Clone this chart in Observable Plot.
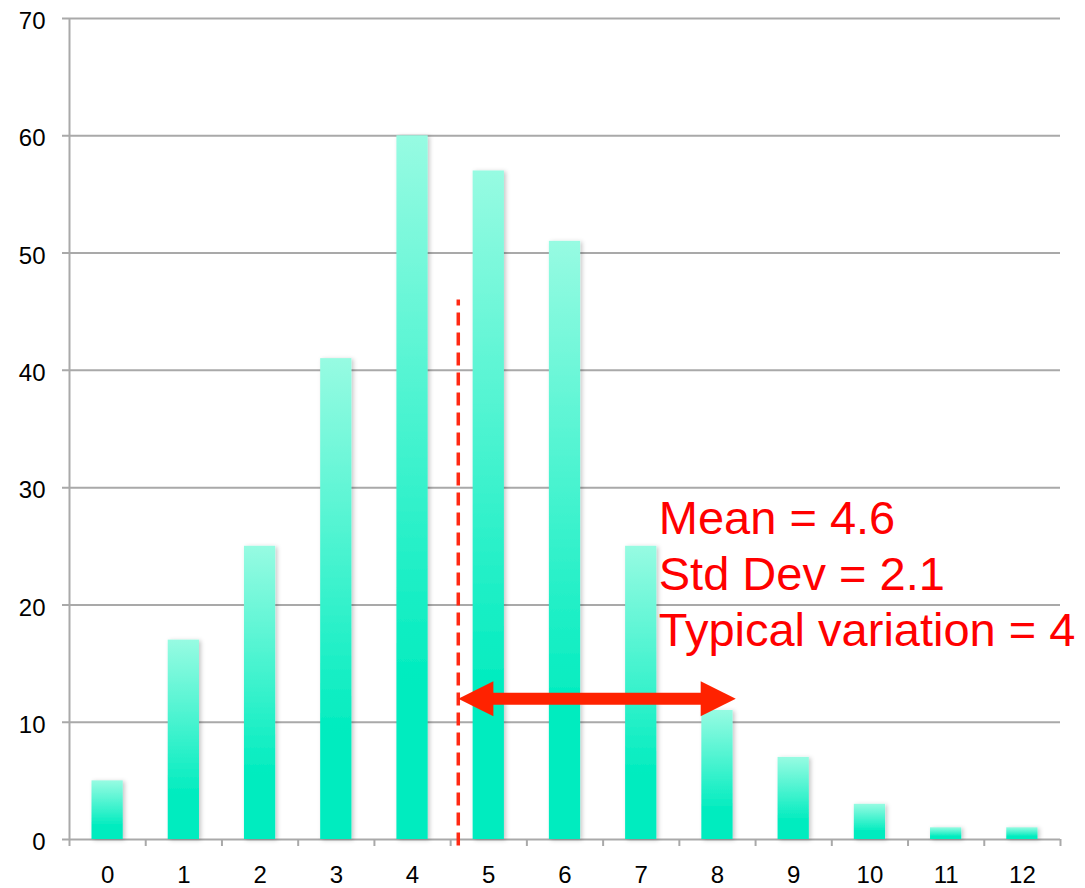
<!DOCTYPE html>
<html>
<head>
<meta charset="utf-8">
<script src="https://cdn.jsdelivr.net/npm/d3@7"></script>
<script src="https://cdn.jsdelivr.net/npm/@observablehq/plot@0.6"></script>
<style>
  html, body { margin: 0; padding: 0; background: #ffffff; }
  #chart svg { display: block; }
</style>
</head>
<body>
<div id="chart"></div>
<script>
// Number of occurrences (category) and how often each was observed
const counts = [0, 1, 2, 3, 4, 5, 6, 7, 8, 9, 10, 11, 12];
const frequencies = [5, 17, 25, 41, 60, 57, 51, 25, 11, 7, 3, 1, 1];
const yTicks = [0, 10, 20, 30, 40, 50, 60, 70];

// Summary statistics shown in the note
const meanValue = 4.6;
const stdDev = 2.1;
const typicalVariation = 4;
const noteLines = [
  `Mean = ${meanValue}`,
  `Std Dev = ${stdDev}`,
  `Typical variation = ${typicalVariation}`
];

// Annotation placement (data units)
const meanLineTop = 46;
const arrowY = 12;
const arrowEnd = 8.24;
const noteX = 7.23;
const noteY = 16.54;

const gridColor = "#a9a9a9";
const red = "#ff2200";
const halfBar = 0.205;
const labelFont = "'Liberation Sans', Arial, Helvetica, sans-serif";

const rows = counts.map((k, i) => ({k, n: frequencies[i]}));
const boundaries = d3.range(-0.5, 12.5 + 1e-9, 1);

// Arrow head pointing right with its tip at the origin
const arrowHead = {
  draw(context, size) {
    const s = Math.sqrt(size / Math.PI);
    context.moveTo(0, 0);
    context.lineTo(-2.7 * s, -1.35 * s);
    context.lineTo(-2.7 * s, 1.35 * s);
    context.closePath();
  }
};

const chart = Plot.plot({
  width: 1085,
  height: 888,
  marginLeft: 69,
  marginRight: 25,
  marginTop: 18,
  marginBottom: 49,
  style: {
    fontFamily: labelFont,
    fontSize: "24px",
    background: "#ffffff",
    overflow: "visible"
  },
  x: {type: "linear", domain: [-0.5, 12.5], axis: null},
  y: {domain: [0, 70], axis: null},
  marks: [
    // horizontal gridlines, extended left to form the y-axis ticks
    Plot.ruleY(yTicks, {x1: -0.5, x2: 12.5, stroke: gridColor, strokeWidth: 2, insetLeft: -7}),
    // y-axis line
    Plot.ruleX([-0.5], {y1: 0, y2: 70, stroke: gridColor, strokeWidth: 2}),
    // x-axis tick marks between categories
    Plot.axisX(boundaries, {tickSize: 7, tickFormat: () => "", stroke: gridColor, strokeWidth: 2, label: null}),
    // x-axis labels
    Plot.text(counts, {
      x: d => d,
      frameAnchor: "bottom",
      lineAnchor: "top",
      dy: 26,
      text: d => String(d),
      fontSize: 24,
      fill: "#000"
    }),
    // y-axis labels
    Plot.text(yTicks, {
      y: d => d,
      frameAnchor: "left",
      textAnchor: "end",
      dx: -24,
      dy: 3,
      text: d => String(d),
      fontSize: 24,
      fill: "#000"
    }),
    // bars
    Plot.rectY(rows, {
      x1: d => d.k - halfBar,
      x2: d => d.k + halfBar,
      y: "n",
      fill: "url(#barFill)"
    }),
    // mean marker
    Plot.ruleX([meanValue], {y1: -0.55, y2: meanLineTop, stroke: "#ff2a14", strokeWidth: 3.5, strokeDasharray: "13,7"}),
    // variation arrow
    Plot.ruleY([arrowY], {x1: meanValue, x2: arrowEnd, stroke: red, strokeWidth: 12, insetLeft: 20, insetRight: 20}),
    Plot.dot([{x: arrowEnd, y: arrowY}], {x: "x", y: "y", symbol: arrowHead, r: 13, fill: red, stroke: "none"}),
    Plot.dot([{x: meanValue, y: arrowY}], {x: "x", y: "y", symbol: arrowHead, r: 13, rotate: 180, fill: red, stroke: "none"}),
    // summary note
    Plot.text([noteLines.join("\n")], {
      x: noteX,
      y: noteY,
      text: d => d,
      textAnchor: "start",
      lineAnchor: "bottom",
      lineHeight: 1.19,
      fontSize: 47,
      fill: "#ff0000"
    })
  ]
});

// gradient fill and soft shadow for the bars
const svgNS = "http://www.w3.org/2000/svg";
const defs = document.createElementNS(svgNS, "defs");
defs.innerHTML = `
  <linearGradient id="barFill" x1="0" y1="0" x2="0" y2="1">
    <stop offset="0%" stop-color="#97fbe2"/>
    <stop offset="78%" stop-color="#00ecbf"/>
    <stop offset="100%" stop-color="#00ecbf"/>
  </linearGradient>
  <filter id="barShadow" x="-20%" y="-5%" width="150%" height="115%">
    <feDropShadow dx="2" dy="1" stdDeviation="2" flood-color="#000" flood-opacity="0.22"/>
  </filter>`;
chart.insertBefore(defs, chart.firstChild);
chart.querySelectorAll('[fill="url(#barFill)"]').forEach(el => el.setAttribute("filter", "url(#barShadow)"));

document.getElementById("chart").appendChild(chart);
</script>
</body>
</html>
